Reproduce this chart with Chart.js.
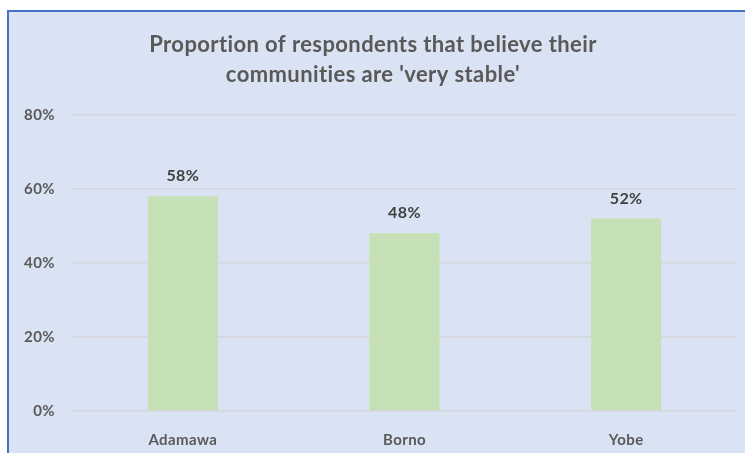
<!DOCTYPE html>
<html>
<head>
<meta charset="utf-8">
<script src="https://cdn.jsdelivr.net/npm/chart.js@4/dist/chart.umd.min.js"></script>
<style>
  html, body { margin: 0; padding: 0; background: #fff; }
  body { width: 745px; height: 453px; overflow: hidden; position: relative; }
  #frame {
    position: absolute; left: 7px; top: 10px;
    width: 736px; height: 441px;
    border-left: 2px solid #4472C4; border-top: 2px solid #4472C4;
    background: #DAE3F3;
  }
  #chart { display: block; }
</style>
</head>
<body>
<div id="frame"><canvas id="chart" width="736" height="441"></canvas></div>
<script>
// chart data
const regions = ['Adamawa', 'Borno', 'Yobe'];
const veryStable = [58, 48, 52];
const yTicks = [0, 20, 40, 60, 80];
const titleLines = ['Proportion of respondents that believe their', "communities are 'very stable'"];

const FONT = 'Lato, "Open Sans", sans-serif';

// slightly wider letter spacing, closer to the original look
const spacing = {
    id: 'spacing',
    beforeDraw: (chart) => { chart.ctx.letterSpacing = '0.4px'; },
    beforeLayout: (chart) => { chart.ctx.letterSpacing = '0.4px'; }
};

// labels above the bars
const barLabels = {
    id: 'barLabels',
    afterDatasetsDraw: (chart) => {
        const ctx = chart.ctx;
        const meta = chart.getDatasetMeta(0);
        ctx.save();
        ctx.font = 'bold 16px ' + FONT;
        ctx.fillStyle = '#404040';
        ctx.textAlign = 'center';
        ctx.textBaseline = 'middle';
        meta.data.forEach((bar, i) => {
            ctx.fillText(veryStable[i] + '%', bar.x, bar.y - 20);
        });
        ctx.restore();
    }
};

new Chart(document.getElementById('chart'), {
    type: 'bar',
    data: {
        labels: regions,
        datasets: [{
            data: veryStable,
            backgroundColor: '#C5E0B4',
            barPercentage: 1,
            categoryPercentage: 0.316
        }]
    },
    options: {
        responsive: false,
        animation: false,
        layout: { padding: { left: 0, right: 8, top: 0, bottom: 0 } },
        plugins: {
            legend: { display: false },
            tooltip: { enabled: false },
            title: {
                display: true,
                text: titleLines,
                color: '#595959',
                font: { family: FONT, size: 22, weight: 'bold', lineHeight: 1.36 },
                padding: { top: 18, bottom: 25 }
            }
        },
        scales: {
            x: {
                afterFit: (scale) => { scale.height = 42; },
                grid: { display: false },
                border: { display: false },
                ticks: {
                    color: '#595959',
                    font: { family: FONT, size: 15, weight: 'bold' },
                    padding: 12
                }
            },
            y: {
                min: 0,
                max: 80,
                afterBuildTicks: (scale) => {
                    scale.ticks = yTicks.map(v => ({ value: v }));
                },
                afterFit: (scale) => { scale.width = 63; },
                grid: { color: '#D3D6DB', lineWidth: 1.5, drawTicks: false },
                border: { display: false },
                ticks: {
                    color: '#595959',
                    font: { family: FONT, size: 15, weight: 'bold' },
                    padding: 17,
                    callback: (v) => v + '%'
                }
            }
        }
    },
    plugins: [spacing, barLabels]
});
</script>
</body>
</html>
